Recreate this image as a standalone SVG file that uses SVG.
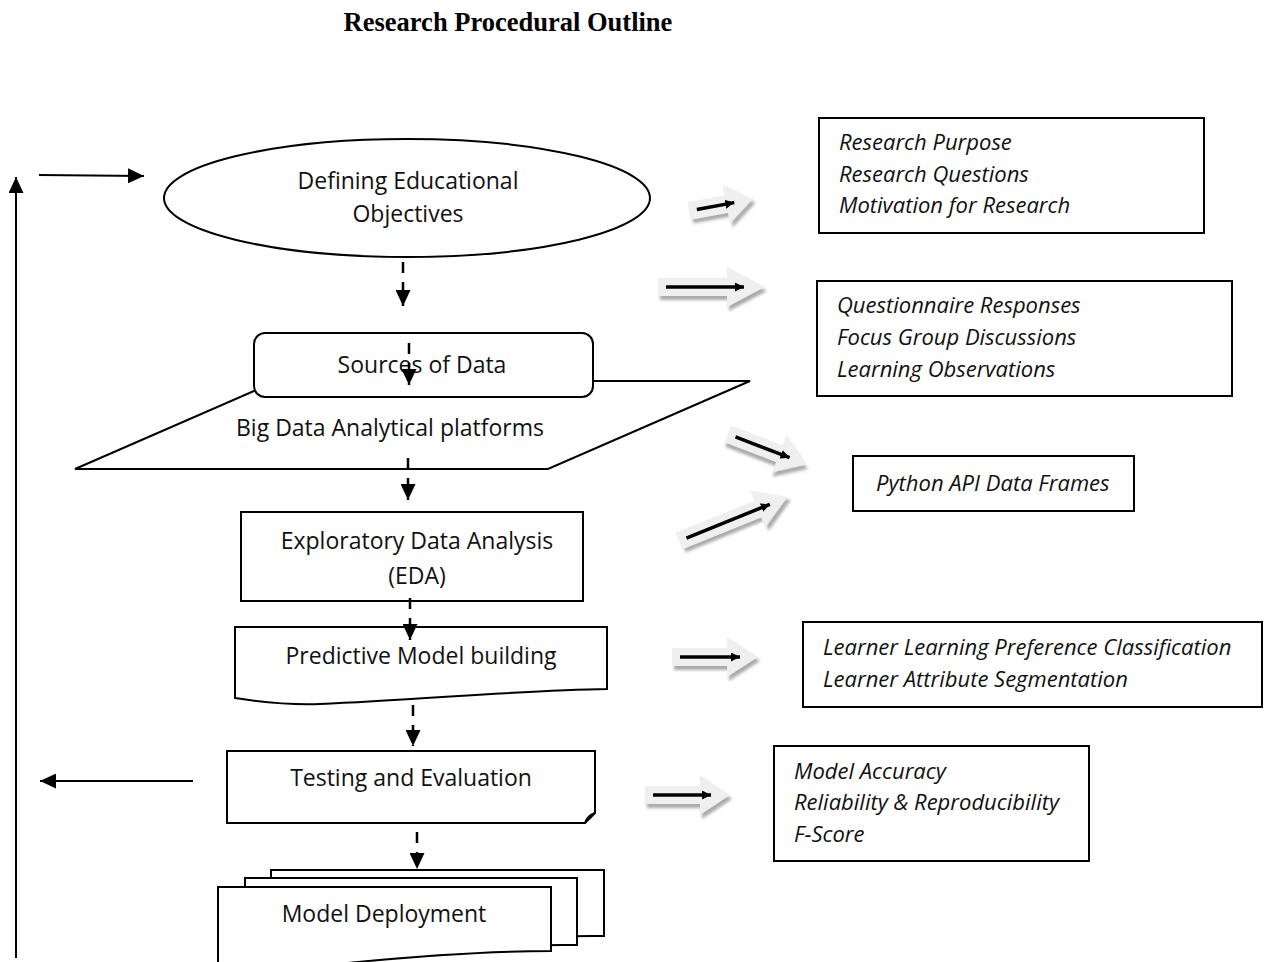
<svg xmlns="http://www.w3.org/2000/svg" width="1267" height="962" viewBox="0 0 1267 962">
<defs>
<style>
.shape{fill:#fff;stroke:#000;stroke-width:2}
.lbl{font-family:"Open Sans","Noto Sans",sans-serif;font-size:23px;fill:#111;text-anchor:middle}
.it{font-family:"Open Sans","Noto Sans",sans-serif;font-size:22px;font-style:italic;fill:#111}
.title{font-family:"Liberation Serif","Times New Roman",serif;font-weight:bold;font-size:26.5px;fill:#000;text-anchor:middle}
.dash{stroke:#000;stroke-width:2.5;fill:none;stroke-dasharray:11 9;marker-end:url(#ah)}
.solid{stroke:#000;stroke-width:2;fill:none;marker-end:url(#ah2)}
.blk{fill:#efefef;filter:url(#sh)}
.inner{stroke:#000;stroke-width:3.5;fill:none;marker-end:url(#ah3)}
</style>
<marker id="ah" markerUnits="userSpaceOnUse" markerWidth="16" markerHeight="15" refX="16" refY="7.5" orient="auto" viewBox="0 0 16 15"><path d="M0,0 L16,7.5 L0,15 Z" fill="#000"/></marker>
<marker id="ah2" markerUnits="userSpaceOnUse" markerWidth="16" markerHeight="15" refX="16" refY="7.5" orient="auto" viewBox="0 0 16 15"><path d="M0,0 L16,7.5 L0,15 Z" fill="#000"/></marker>
<marker id="ah3" markerUnits="userSpaceOnUse" markerWidth="9" markerHeight="9" refX="9" refY="4.5" orient="auto" viewBox="0 0 9 9"><path d="M0,0 L9,4.5 L0,9 Z" fill="#000"/></marker>
<filter id="sh" x="-20%" y="-60%" width="150%" height="240%"><feDropShadow dx="2" dy="4" stdDeviation="1.5" flood-color="#9c9c9c" flood-opacity="0.85"/></filter>
</defs>
<rect width="1267" height="962" fill="#fff"/>
<text class="title" x="508" y="31">Research Procedural Outline</text>

<g id="n-bigdata">
<polygon class="shape" points="277,381 750,381 548,469 75,469"/>
<text class="lbl" x="390" y="436">Big Data Analytical platforms</text>
</g>
<g id="n-objectives">
<ellipse class="shape" cx="407" cy="198" rx="243" ry="59"/>
<text class="lbl" x="408" y="189">Defining Educational</text>
<text class="lbl" x="408" y="222">Objectives</text>
</g>
<g id="n-sources">
<rect class="shape" x="254" y="333" width="339" height="64" rx="11"/>
<text class="lbl" x="422" y="373">Sources of Data</text>
</g>
<g id="n-eda">
<rect class="shape" x="241" y="512" width="342" height="89"/>
<text class="lbl" x="417" y="549">Exploratory Data Analysis</text>
<text class="lbl" x="417" y="584">(EDA)</text>
</g>
<g id="n-predictive">
<path class="shape" d="M235,627 H607 V689 C520,690 420,700 320,704 C290,705 260,702 235,698 Z"/>
<text class="lbl" x="421" y="664">Predictive Model building</text>
</g>
<g id="n-testing">
<path class="shape" d="M227,751 H595 V813 L585,823 H227 Z"/>
<path d="M585,823 Q587,816 595,813" fill="none" stroke="#000" stroke-width="2"/>
<text class="lbl" x="411" y="786">Testing and Evaluation</text>
</g>
<g id="n-deployment">
<path class="shape" d="M271,870 H604 V936 C520,935 440,944 380,952 C340,957 300,955 271,953 Z"/>
<path class="shape" d="M245,878 H577 V945 C500,944 420,952 360,958 C320,962 280,961 245,959 Z"/>
<path class="shape" d="M218,887 H551 V951 C480,951 410,957 358,962 C300,968 250,968 218,966 Z"/>
<text class="lbl" x="384" y="922">Model Deployment</text>
</g>

<g id="n-box1">
<rect class="shape" x="819" y="118" width="385" height="115"/>
<text class="it" x="839" y="150">Research Purpose</text>
<text class="it" x="839" y="182">Research Questions</text>
<text class="it" x="839" y="213">Motivation for Research</text>
</g>
<g id="n-box2">
<rect class="shape" x="817" y="281" width="415" height="115"/>
<text class="it" x="837" y="313">Questionnaire Responses</text>
<text class="it" x="837" y="345">Focus Group Discussions</text>
<text class="it" x="837" y="377">Learning Observations</text>
</g>
<g id="n-box3">
<rect class="shape" x="853" y="456" width="281" height="55"/>
<text class="it" x="876" y="491">Python API Data Frames</text>
</g>
<g id="n-box4">
<rect class="shape" x="803" y="622" width="459" height="85"/>
<text class="it" x="823" y="655">Learner Learning Preference Classification</text>
<text class="it" x="823" y="687">Learner Attribute Segmentation</text>
</g>
<g id="n-box5">
<rect class="shape" x="774" y="746" width="315" height="115"/>
<text class="it" x="794" y="779">Model Accuracy</text>
<text class="it" x="794" y="810">Reliability &amp; Reproducibility</text>
<text class="it" x="794" y="842">F-Score</text>
</g>

<g id="connectors">
<path class="dash" d="M403,262 V306"/>
<path class="dash" d="M409,343 V385"/>
<path class="dash" d="M408,458 V500"/>
<path class="dash" d="M410,598 V640"/>
<path class="dash" d="M413,705 V746"/>
<path class="dash" d="M417,832 V869"/>
<path class="solid" d="M16,958 V177"/>
<path class="solid" d="M39,175 L144,176"/>
<path class="solid" d="M193,781 H40"/>
<g transform="translate(689,211) rotate(-10.5)">
<path class="blk" d="M0,-9 L38,-9 L38,-20 L65,0 L38,20 L38,9 L0,9 Z"/>
<path class="inner" d="M8,0 H46"/>
</g>
<g transform="translate(658,287)">
<path class="blk" d="M0,-9 L69,-9 L69,-20 L107,0 L69,20 L69,9 L0,9 Z"/>
<path class="inner" d="M8,0 H86"/>
</g>
<g transform="translate(728,434) rotate(21)">
<path class="blk" d="M0,-9 L55,-9 L55,-20 L85,0 L55,20 L55,9 L0,9 Z"/>
<path class="inner" d="M8,0 H66"/>
</g>
<g transform="translate(679,541) rotate(-22)">
<path class="blk" d="M0,-9 L85,-9 L85,-20 L117,0 L85,20 L85,9 L0,9 Z"/>
<path class="inner" d="M8,0 H98"/>
</g>
<g transform="translate(672,657)">
<path class="blk" d="M0,-9 L55,-9 L55,-20 L86,0 L55,20 L55,9 L0,9 Z"/>
<path class="inner" d="M8,0 H68"/>
</g>
<g transform="translate(645,795)">
<path class="blk" d="M0,-9 L55,-9 L55,-20 L85,0 L55,20 L55,9 L0,9 Z"/>
<path class="inner" d="M8,0 H66"/>
</g>
</g>
</svg>
